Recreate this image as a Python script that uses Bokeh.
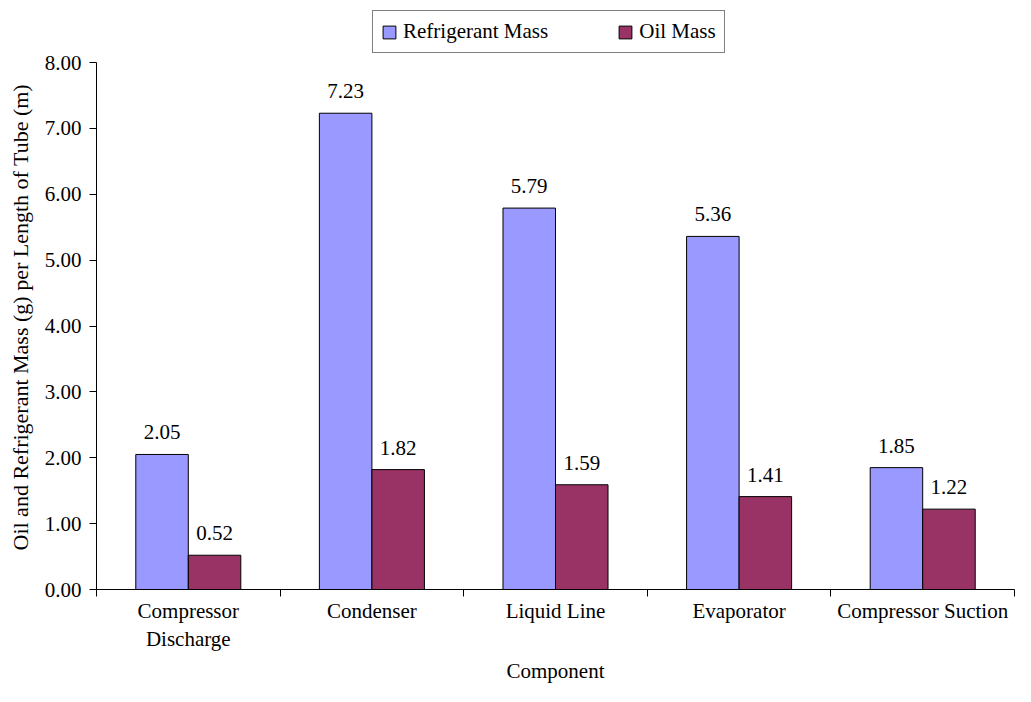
import numpy as np
from bokeh.plotting import figure
from bokeh.models import (ColumnDataSource, FixedTicker, NumeralTickFormatter, Legend,
                          LegendItem, LabelSet, Range1d, Title)
from bokeh.transform import dodge
from bokeh.core.properties import value
from bokeh.embed import file_html
from bokeh.resources import INLINE

# ---- data ----
categories = ["Compressor Discharge", "Condenser", "Liquid Line", "Evaporator", "Compressor Suction"]
tick_labels = ["Compressor\nDischarge", "Condenser", "Liquid Line", "Evaporator", "Compressor Suction"]
refrigerant_mass = [2.05, 7.23, 5.79, 5.36, 1.85]
oil_mass = [0.52, 1.82, 1.59, 1.41, 1.22]
y_ticks = [0, 1, 2, 3, 4, 5, 6, 7, 8]
series_names = ["Refrigerant Mass", "Oil Mass"]
x_title = "Component"
y_title = "Oil and Refrigerant Mass (g) per Length of Tube (m)"

FONT = "Liberation Serif"
FS = "21px"
BLUE = "#9999FF"
PLUM = "#993366"
BAR_W = 0.286
Y_VIEW_TOP = 8.911   # frame extends above the axis so the legend fits inside it

pos = np.arange(len(categories)) + 0.5
src = ColumnDataSource(dict(
    x=pos,
    ref=refrigerant_mass,
    oil=oil_mass,
    ref_lbl=[f"{v:.2f}" for v in refrigerant_mass],
    oil_lbl=[f"{v:.2f}" for v in oil_mass],
))

p = figure(width=1015, height=686, output_backend="svg", toolbar_location=None,
           x_range=Range1d(0, len(categories)), y_range=Range1d(y_ticks[0], Y_VIEW_TOP),
           min_border_left=96, min_border_right=1, min_border_top=2, min_border_bottom=97)
p.outline_line_color = None
p.grid.visible = False
p.background_fill_color = "white"
p.border_fill_color = "white"

r1 = p.vbar(x=dodge("x", -BAR_W / 2), top="ref", width=BAR_W, source=src,
            fill_color=BLUE, line_color="black", line_width=1)
r2 = p.vbar(x=dodge("x", BAR_W / 2), top="oil", width=BAR_W, source=src,
            fill_color=PLUM, line_color="black", line_width=1)

for xf, yf, tf in [(dodge("x", -BAR_W / 2), "ref", "ref_lbl"), (dodge("x", BAR_W / 2), "oil", "oil_lbl")]:
    p.add_layout(LabelSet(x=xf, y=yf, text=tf, source=src, text_align="center",
                          text_baseline="alphabetic", y_offset=15,
                          text_font=value(FONT), text_font_size=value(FS), text_color="black"))

# x axis
xa = p.xaxis[0]
xa.ticker = FixedTicker(ticks=list(pos), minor_ticks=list(np.arange(len(categories) + 1)))
xa.major_label_overrides = {float(x): lbl for x, lbl in zip(pos, tick_labels)}
xa.major_tick_out = 0
xa.major_tick_in = 0
xa.minor_tick_out = 7
xa.minor_tick_in = 0
xa.minor_tick_line_color = "black"
xa.axis_line_color = "black"
xa.major_label_standoff = 2
xa.major_label_text_font = FONT
xa.major_label_text_font_size = FS
xa.major_label_text_color = "black"
xa.axis_label = x_title
xa.axis_label_text_font = FONT
xa.axis_label_text_font_size = FS
xa.axis_label_text_font_style = "normal"
xa.axis_label_text_color = "black"
xa.axis_label_standoff = 5

# y axis
ya = p.yaxis[0]
ya.ticker = FixedTicker(ticks=y_ticks)
ya.bounds = (y_ticks[0], y_ticks[-1])
ya.formatter = NumeralTickFormatter(format="0.00")
ya.minor_tick_line_color = None
ya.major_tick_out = 7
ya.major_tick_in = 0
ya.major_tick_line_color = "black"
ya.axis_line_color = "black"
ya.major_label_standoff = 8
ya.major_label_text_font = FONT
ya.major_label_text_font_size = FS
ya.major_label_text_color = "black"

# y axis title (side title, positioned along the 0-8 axis span)
ytitle = Title(text=y_title, align="left", offset=39, standoff=14, vertical_align="top",
               text_font=FONT, text_font_size="22px", text_font_style="normal",
               text_color="black")
p.add_layout(ytitle, "left")

# legend
legend = Legend(items=[LegendItem(label=series_names[0], renderers=[r1]),
                       LegendItem(label=series_names[1], renderers=[r2])],
                orientation="horizontal", location=(276, 536), padding=8, spacing=69,
                glyph_width=16, glyph_height=16, label_standoff=6, margin=0,
                border_line_color="black", border_line_width=1, background_fill_color="white",
                background_fill_alpha=1,
                label_text_font=FONT, label_text_font_size=FS, label_text_color="black")
p.add_layout(legend)

open("out.html", "w").write(file_html(p, INLINE))
